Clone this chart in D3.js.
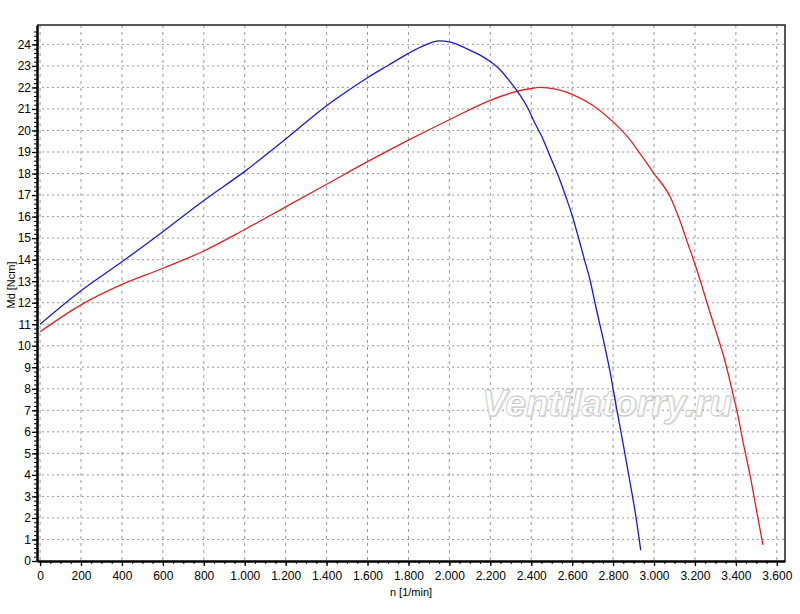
<!DOCTYPE html>
<html>
<head>
<meta charset="utf-8">
<script src="https://cdn.jsdelivr.net/npm/d3@7"></script>
<style>
  body { margin: 0; background: #fff; }
  svg { display: block; font-family: "Liberation Sans", Arial, sans-serif; }
</style>
</head>
<body>
<div id="chart"></div>
<script>
// speed n [1/min] and torque Md [Ncm]
var blueN  = [0, 200, 400, 600, 800, 1000, 1200, 1400, 1500, 1600, 1700, 1800, 1870, 1950, 2000, 2080, 2150, 2200, 2250, 2290, 2330, 2380, 2420, 2460, 2490, 2540, 2570, 2600, 2630, 2660, 2690, 2710, 2735, 2760, 2785, 2815, 2850, 2880, 2910, 2935];
var blueMd = [11.0, 12.55, 13.9, 15.3, 16.75, 18.1, 19.6, 21.15, 21.82, 22.45, 23.02, 23.58, 23.92, 24.16, 24.12, 23.82, 23.5, 23.2, 22.8, 22.35, 21.85, 21.1, 20.3, 19.55, 18.85, 17.7, 16.9, 16.05, 15.05, 14.0, 12.95, 12.05, 11.0, 9.95, 8.8, 7.2, 5.4, 3.8, 2.15, 0.5];

var redN  = [0, 200, 400, 600, 800, 1000, 1200, 1400, 1600, 1800, 2000, 2200, 2330, 2400, 2440, 2520, 2600, 2700, 2800, 2880, 2930, 3000, 3080, 3125, 3165, 3200, 3230, 3265, 3300, 3345, 3385, 3410, 3440, 3470, 3500, 3532];
var redMd = [10.65, 11.9, 12.85, 13.6, 14.4, 15.4, 16.45, 17.5, 18.55, 19.55, 20.5, 21.4, 21.82, 21.95, 22.0, 21.92, 21.68, 21.17, 20.4, 19.6, 18.95, 18.0, 16.9, 15.85, 14.75, 13.8, 12.9, 11.8, 10.75, 9.35, 7.8, 6.75, 5.3, 3.95, 2.4, 0.75];

var xTicks = d3.range(0, 3601, 200);
var xMinor = d3.range(0, 3601, 50);
var yTicks = d3.range(0, 25, 1);
var yMinor = d3.range(0, 124, 1).map(function (i) { return i * 0.2; });

var margin = { top: 25, right: 15, bottom: 53, left: 37 },
    width = 800 - margin.left - margin.right,
    height = 614 - margin.top - margin.bottom;

var svg = d3.select("#chart")
    .append("svg")
    .attr("width", 800)
    .attr("height", 614)
  .append("g")
    .attr("transform", "translate(" + margin.left + "," + margin.top + ")");

var x = d3.scaleLinear().domain([-15, 3640]).range([0, width]);
var y = d3.scaleLinear().domain([0, 24.9]).range([height, 0]);

var fmt = function (d) { return d3.format(",")(d).replace(/,/g, "."); };

// grid
svg.append("g")
    .selectAll("line")
    .data(yTicks.filter(function (d) { return d > 0; }))
    .enter().append("line")
    .attr("x1", 0).attr("x2", width)
    .attr("y1", function (d) { return y(d); })
    .attr("y2", function (d) { return y(d); })
    .attr("stroke", "#999")
    .attr("stroke-dasharray", "2,3");

svg.append("g")
    .selectAll("line")
    .data(xTicks)
    .enter().append("line")
    .attr("y1", 0).attr("y2", height)
    .attr("x1", function (d) { return x(d); })
    .attr("x2", function (d) { return x(d); })
    .attr("stroke", "#999")
    .attr("stroke-dasharray", "3,4");

// watermark
var wm = svg.append("text")
    .attr("x", x(2770))
    .attr("y", y(6.75))
    .attr("text-anchor", "middle")
    .attr("font-size", 37)
    .attr("font-style", "italic")
    .attr("font-weight", "bold")
    .text("Ventilatorry.ru");
wm.clone(true)
    .attr("dx", 1.5).attr("dy", 1.5)
    .attr("fill", "#e4e4e4")
    .lower();
wm.attr("fill", "#fff").attr("stroke", "#c4c4c4").attr("stroke-width", 0.8);

// curves
var line = d3.line()
    .x(function (d) { return x(d[0]); })
    .y(function (d) { return y(d[1]); })
    .curve(d3.curveMonotoneX);

svg.append("path")
    .datum(d3.zip(redN, redMd))
    .attr("fill", "none")
    .attr("stroke", "#e02020")
    .attr("stroke-width", 1.3)
    .attr("d", line);

svg.append("path")
    .datum(d3.zip(blueN, blueMd))
    .attr("fill", "none")
    .attr("stroke", "#1a1ad0")
    .attr("stroke-width", 1.3)
    .attr("d", line);

// frame top and right
svg.append("path")
    .attr("d", "M0,0H" + width + "V" + height)
    .attr("fill", "none")
    .attr("stroke", "#222")
    .attr("stroke-width", 1.5);

// axes
var xMin = svg.append("g")
    .attr("transform", "translate(0," + height + ")")
    .call(d3.axisBottom(x).tickValues(xMinor).tickSize(3).tickFormat(""));
var xAx = svg.append("g")
    .attr("transform", "translate(0," + height + ")")
    .call(d3.axisBottom(x).tickValues(xTicks).tickSize(5).tickSizeOuter(0).tickPadding(5).tickFormat(fmt));

var yMin = svg.append("g")
    .call(d3.axisLeft(y).tickValues(yMinor).tickSize(3).tickFormat(""));
var yAx = svg.append("g")
    .call(d3.axisLeft(y).tickValues(yTicks).tickSize(5).tickSizeOuter(0).tickPadding(1));

[xMin, yMin].forEach(function (g) {
    g.select(".domain").remove();
    g.selectAll("line").attr("stroke", "#000");
});
[xAx, yAx].forEach(function (g) {
    g.select(".domain").attr("stroke", "#000").attr("stroke-width", 2.5);
    g.selectAll("line").attr("stroke", "#000").attr("stroke-width", 1.3);
    g.selectAll("text").attr("font-size", 12).attr("fill", "#000")
        .attr("font-family", "Liberation Sans, Arial, sans-serif");
});

// axis titles
svg.append("text")
    .attr("x", width / 2)
    .attr("y", height + 35)
    .attr("text-anchor", "middle")
    .attr("font-size", 11)
    .text("n [1/min]");

svg.append("text")
    .attr("transform", "translate(" + (-22) + "," + (height / 2 - 8) + ") rotate(-90)")
    .attr("text-anchor", "middle")
    .attr("font-size", 11)
    .text("Md [Ncm]");
</script>
</body>
</html>
